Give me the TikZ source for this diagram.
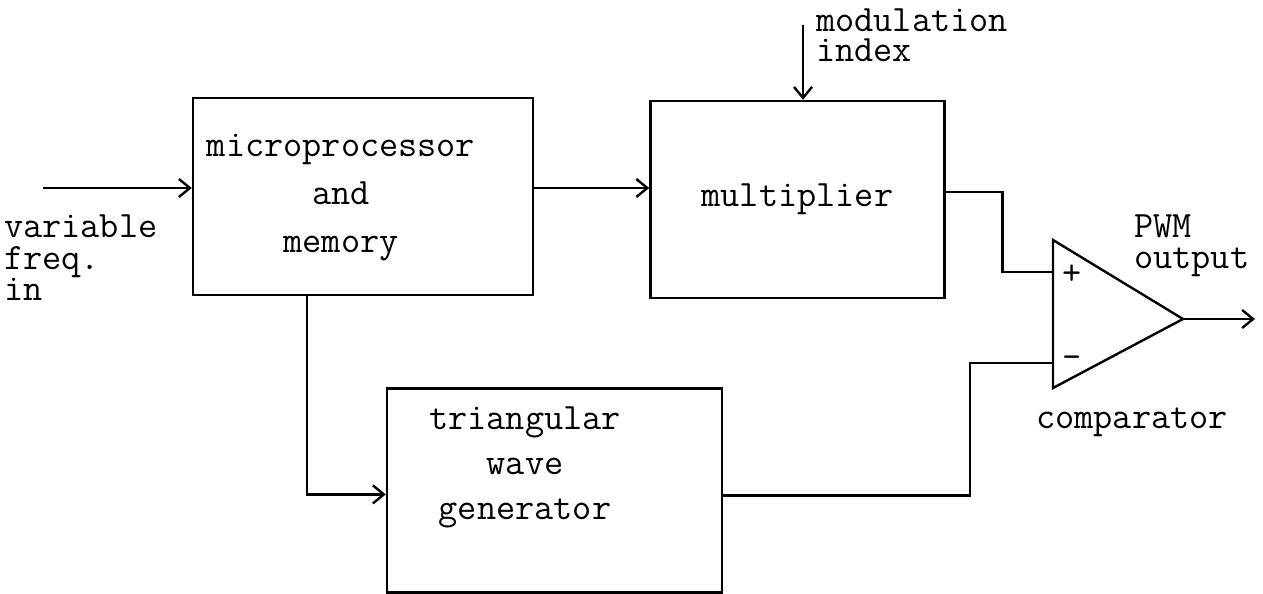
\documentclass[tikz,border=0pt]{standalone}
\usepackage{fontspec}
\usetikzlibrary{calc,arrows.meta,positioning}

\begin{document}
\begin{tikzpicture}[x=0.5pt,y=-0.5pt,line width=1.2pt,
  every node/.style={font=\ttfamily\fontsize{18.6}{24}\selectfont,inner sep=0pt},
  blk/.style={draw,minimum height=98.5pt},
  sig/.style={-{Straight Barb[length=5.5pt,width=9pt]}}]
\useasboundingbox (0,0) rectangle (1263,594);
% blocks
\node[blk,minimum width=170pt] (micro) at (363,196.5) {};
\node[blk,minimum width=147pt,right=57.5pt of micro,yshift=-1.5pt] (mult) {multiplier};
\node[blk,minimum width=167.5pt,minimum height=102pt,below=45.5pt of micro,xshift=95.75pt] (tri) {};
\node[align=center] (microtxt) at ($(micro.center)+(-22,1)$) {microprocessor\\and\\memory};
\node[align=center,font=\ttfamily\fontsize{18.6}{22.5}\selectfont] (tritxt) at ($(tri.center)+(-29.5,-23)$) {triangular\\wave\\generator};
% comparator
\coordinate (plus) at (1053,272);
\coordinate (minus) at (1053,363);
\coordinate (apex) at (1183,319);
\draw (1053,240) -- (apex) -- (1053,388) -- cycle;
\node (plustxt) at (1072,275) {+};
\node (minustxt) at (1072,362) {-};
% labels
\node[align=left,anchor=north west,font=\ttfamily\fontsize{18.6}{15.75}\selectfont] (fintxt) at (3,214) {variable\\freq.\\in};
\node[align=left,anchor=north west,font=\ttfamily\fontsize{18.6}{14.8}\selectfont] (mitxt) at (815,8) {modulation\\index};
\node[align=left,anchor=north west,font=\ttfamily\fontsize{18.6}{15.5}\selectfont] (pwmtxt) at (1133,214) {PWM\\output};
\node[anchor=base west] (cmptxt) at (1035,428) {comparator};
% signals
\coordinate (fin) at (43,188);
\coordinate (mi) at (803,25);
\coordinate (pwm) at (1255,319);
\draw[sig] (fin) -- (fin -| micro.west);
\draw[sig] (micro.east |- fin) -- (mult.west |- fin);
\draw[sig] (mi) -- (mi |- mult.north);
\draw ($(mult.east)+(0,-7.5)$) -- ++(57,0) |- (plus);
\draw ($(tri.east)+(0,5)$) -- ++(247,0) |- (minus);
\draw[sig] ($(micro.south)+(-56,0)$) |- ($(tri.west)+(0,4)$);
\draw[sig] (apex) -- (pwm);
\end{tikzpicture}
\end{document}
